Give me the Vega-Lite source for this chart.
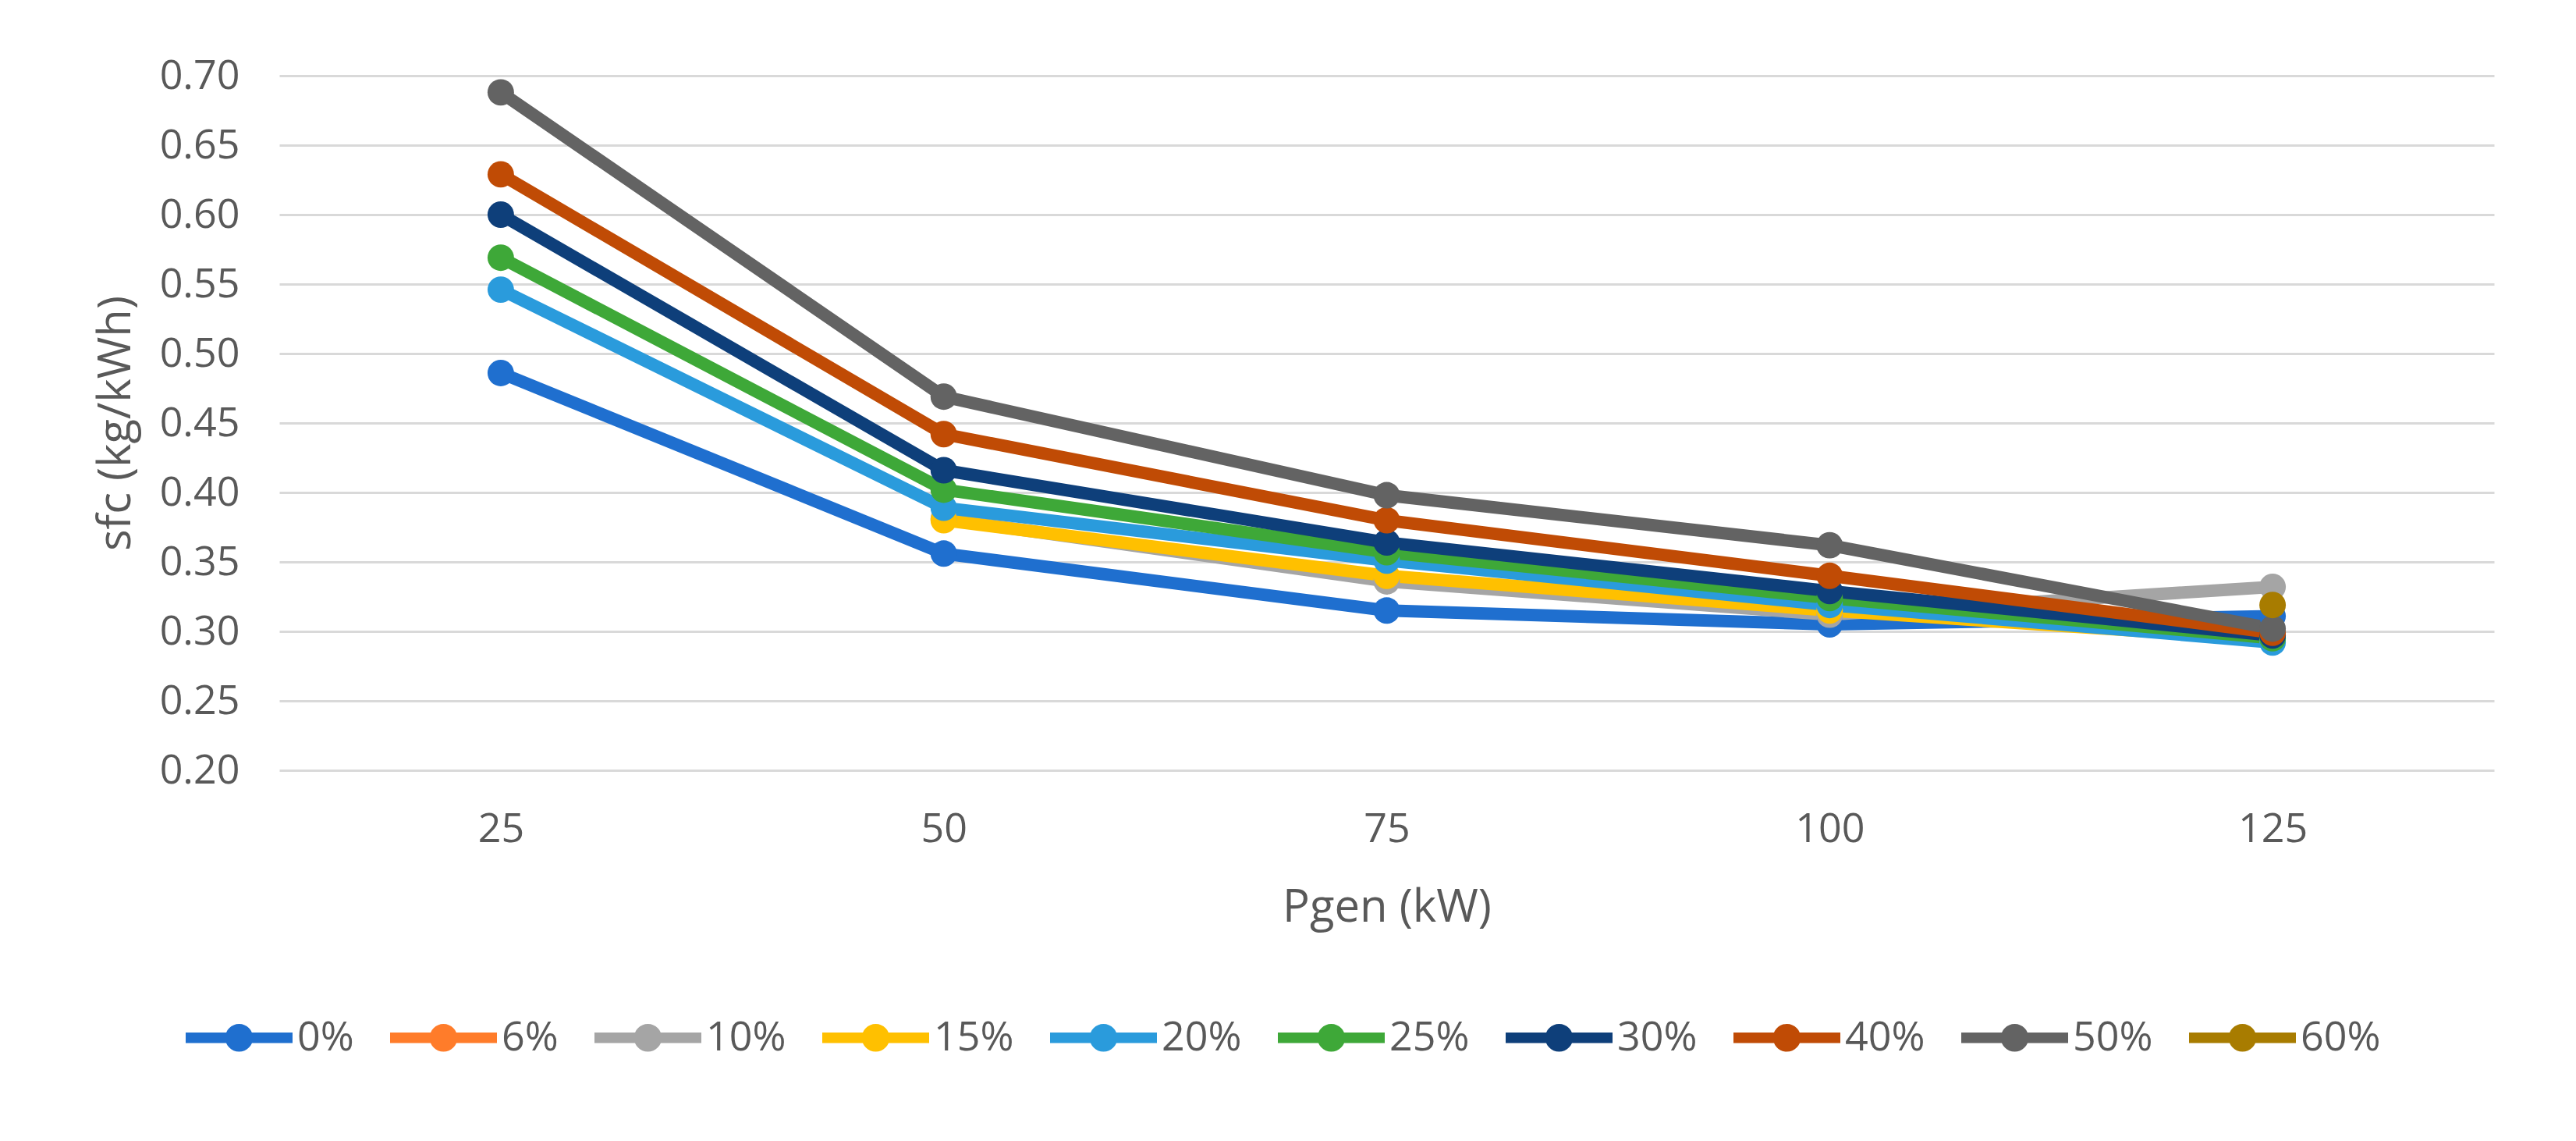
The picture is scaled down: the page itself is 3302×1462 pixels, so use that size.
{
  "$schema": "https://vega.github.io/schema/vega-lite/v6.json",
  "width": 2839,
  "height": 890,
  "autosize": {"type": "none"},
  "padding": {"left": 358, "top": 97, "right": 105, "bottom": 475},
  "background": "white",
  "config": {
    "font": "Open Sans",
    "view": {"stroke": null},
    "axis": {"labelFont": "Open Sans", "titleFont": "Open Sans"},
    "legend": {"labelFont": "Open Sans"}
  },
  "data": {
    "values": [
      {"p": 25, "s": "0%", "sfc": 0.486},
      {"p": 50, "s": "0%", "sfc": 0.356},
      {"p": 75, "s": "0%", "sfc": 0.315},
      {"p": 100, "s": "0%", "sfc": 0.305},
      {"p": 125, "s": "0%", "sfc": 0.311},
      {"p": 50, "s": "10%", "sfc": 0.381},
      {"p": 75, "s": "10%", "sfc": 0.336},
      {"p": 100, "s": "10%", "sfc": 0.312},
      {"p": 125, "s": "10%", "sfc": 0.332},
      {"p": 50, "s": "15%", "sfc": 0.380},
      {"p": 75, "s": "15%", "sfc": 0.340},
      {"p": 100, "s": "15%", "sfc": 0.315},
      {"p": 125, "s": "15%", "sfc": 0.294},
      {"p": 25, "s": "20%", "sfc": 0.546},
      {"p": 50, "s": "20%", "sfc": 0.389},
      {"p": 75, "s": "20%", "sfc": 0.351},
      {"p": 100, "s": "20%", "sfc": 0.319},
      {"p": 125, "s": "20%", "sfc": 0.292},
      {"p": 25, "s": "25%", "sfc": 0.569},
      {"p": 50, "s": "25%", "sfc": 0.402},
      {"p": 75, "s": "25%", "sfc": 0.357},
      {"p": 100, "s": "25%", "sfc": 0.324},
      {"p": 125, "s": "25%", "sfc": 0.295},
      {"p": 25, "s": "30%", "sfc": 0.600},
      {"p": 50, "s": "30%", "sfc": 0.416},
      {"p": 75, "s": "30%", "sfc": 0.364},
      {"p": 100, "s": "30%", "sfc": 0.329},
      {"p": 125, "s": "30%", "sfc": 0.297},
      {"p": 25, "s": "40%", "sfc": 0.629},
      {"p": 50, "s": "40%", "sfc": 0.442},
      {"p": 75, "s": "40%", "sfc": 0.380},
      {"p": 100, "s": "40%", "sfc": 0.340},
      {"p": 125, "s": "40%", "sfc": 0.299},
      {"p": 25, "s": "50%", "sfc": 0.688},
      {"p": 50, "s": "50%", "sfc": 0.469},
      {"p": 75, "s": "50%", "sfc": 0.398},
      {"p": 100, "s": "50%", "sfc": 0.362},
      {"p": 125, "s": "50%", "sfc": 0.302},
      {"p": 125, "s": "60%", "sfc": 0.319}
    ]
  },
  "encoding": {
    "x": {
      "field": "p",
      "type": "ordinal",
      "sort": [25, 50, 75, 100, 125],
      "scale": {"type": "point", "padding": 0.5},
      "axis": {
        "title": "Pgen (kW)",
        "labelAngle": 0,
        "ticks": false,
        "domain": false,
        "grid": false,
        "labelFontSize": 52,
        "labelColor": "#595959",
        "labelPadding": 50,
        "titleFontSize": 58,
        "titleColor": "#595959",
        "titleFontWeight": "normal",
        "titleY": 193,
        "titleBaseline": "alphabetic"
      }
    },
    "y": {
      "field": "sfc",
      "type": "quantitative",
      "scale": {"domain": [0.2, 0.7], "nice": false, "zero": false},
      "axis": {
        "values": [0.2, 0.25, 0.3, 0.35, 0.4, 0.45, 0.5, 0.55, 0.6, 0.65, 0.7],
        "format": ".2f",
        "title": "sfc (kg/kWh)",
        "ticks": false,
        "domain": false,
        "grid": true,
        "gridColor": "#D9D9D9",
        "gridWidth": 3,
        "labelFontSize": 52,
        "labelColor": "#595959",
        "labelPadding": 51,
        "titleFontSize": 58,
        "titleColor": "#595959",
        "titleFontWeight": "normal",
        "titleX": -192,
        "titleY": 445,
        "titleAngle": -90,
        "titleAlign": "center",
        "titleBaseline": "alphabetic"
      }
    },
    "color": {
      "field": "s",
      "type": "nominal",
      "scale": {
        "domain": ["0%", "6%", "10%", "15%", "20%", "25%", "30%", "40%", "50%", "60%"],
        "range": ["#1F6FCF", "#FF7C2A", "#A5A5A5", "#FFC000", "#2A9BDC", "#3EA838", "#0E3F7A", "#C04B05", "#636363", "#A87C00"]
      },
      "legend": {
        "title": null,
        "orient": "none",
        "legendX": -120,
        "legendY": 1164,
        "direction": "horizontal",
        "columns": 10,
        "symbolType": "M-1,-0.1H1V0.1H-1Z M-0.26,0A0.26,0.26 0 1,1 0.26,0A0.26,0.26 0 1,1 -0.26,0Z",
        "symbolSize": 18769,
        "symbolStrokeWidth": 0,
        "symbolOpacity": 1,
        "labelFontSize": 52,
        "labelColor": "#595959",
        "labelOffset": 6,
        "columnPadding": 46
      }
    }
  },
  "layer": [
    {
      "mark": {"type": "line", "strokeWidth": 16, "strokeJoin": "round", "strokeCap": "round"}
    },
    {
      "mark": {"type": "point", "filled": true, "size": 1150, "opacity": 1}
    }
  ]
}
